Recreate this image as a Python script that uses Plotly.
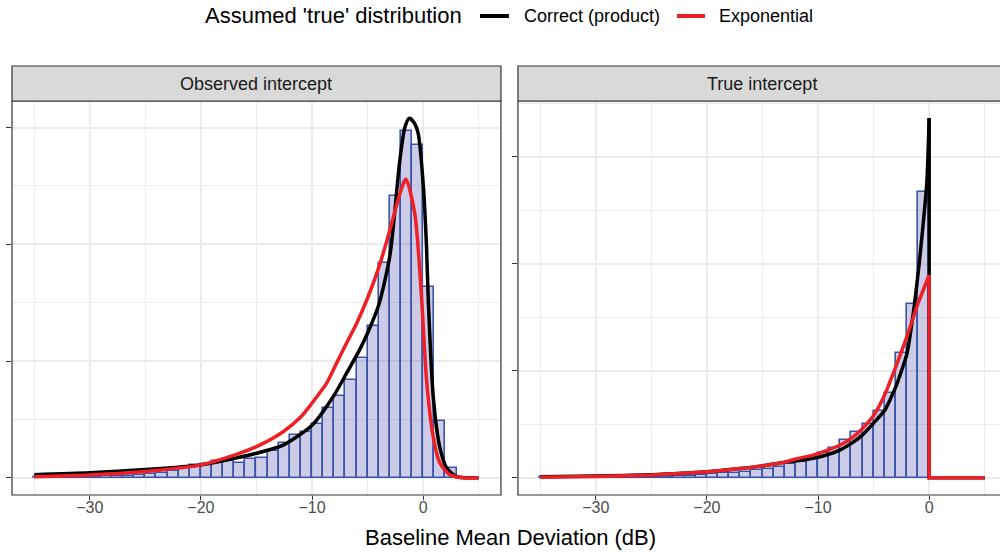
import plotly.graph_objects as go

# histogram bins (left edge, width 1 dB) and densities
obs_edges = list(range(-35, 4))
obs_density = [0.0003, 0.0003, 0.0004, 0.0004, 0.0005, 0.0005, 0.0006, 0.0007, 0.0008, 0.001,
               0.0015, 0.002, 0.003, 0.004, 0.0056, 0.006, 0.007, 0.008, 0.0065, 0.008,
               0.0085, 0.0115, 0.015, 0.0183, 0.0197, 0.023, 0.0297, 0.035, 0.0419, 0.0512,
               0.065, 0.0921, 0.1208, 0.1485, 0.1425, 0.0816, 0.0244, 0.004, 0.0]

true_edges = list(range(-35, 0))
true_density = [0.0002, 0.0002, 0.0003, 0.0003, 0.0004, 0.0004, 0.0005, 0.0006, 0.0007, 0.0008,
                0.0008, 0.001, 0.0015, 0.0019, 0.0025, 0.0031, 0.004, 0.0047, 0.0056, 0.0069,
                0.0078, 0.0103, 0.0125, 0.015, 0.018, 0.0228, 0.028, 0.0352, 0.043, 0.0499,
                0.0623, 0.0789, 0.1163, 0.1623, 0.267]

# fitted curves, observed intercept panel
obs_black_x = [-35, -30, -25, -20, -17, -15, -12.6, -10, -8.1, -6.9, -5.7, -5, -4, -3, -2.1,
               -1.65, -1.25, -0.8, -0.45, 0, 0.3, 0.45, 0.9, 1.5, 2.1, 3, 4, 5]
obs_black_y = [0.0013, 0.0021, 0.0035, 0.0055, 0.0083, 0.0105, 0.014, 0.0225, 0.0347, 0.0447,
               0.055, 0.062, 0.074, 0.095, 0.136, 0.15, 0.154, 0.152, 0.1475, 0.126, 0.099,
               0.0775, 0.035, 0.013, 0.0043, 0.0005, 0.0, 0.0]

obs_red_x = [-35, -30, -25, -20, -17, -15, -12.6, -11, -10, -8.7, -7.8, -6.9, -6, -5, -4, -3,
             -2.2, -1.56, -0.75, -0.15, 0.3, 0.9, 1.5, 2.4, 3.5, 5]
obs_red_y = [0.0004, 0.0012, 0.0027, 0.0055, 0.0097, 0.0133, 0.0197, 0.0261, 0.032, 0.0404,
             0.049, 0.0576, 0.066, 0.077, 0.09, 0.106, 0.12, 0.128, 0.113, 0.0775, 0.042,
             0.0176, 0.0063, 0.0013, 0.0, 0.0]

# fitted curves, true intercept panel
true_black_x = [-35, -30, -25, -20, -17, -15, -13, -11.7, -10, -9, -8, -7, -6, -5, -4, -3, -2,
                -1.35, -0.9, -0.45, -0.2, 0]
true_black_y = [0.0008, 0.0015, 0.0028, 0.0055, 0.0085, 0.011, 0.0145, 0.016, 0.019, 0.022,
                0.026, 0.032, 0.04, 0.051, 0.063, 0.085, 0.116, 0.16, 0.2, 0.247, 0.278, 0.336]

true_red_x = [-35, -30, -25, -20, -17, -15, -13, -12, -11, -10, -9, -8, -7, -6, -5, -4, -3,
              -2, -1, 0]
true_red_y = [0.0005, 0.0011, 0.0025, 0.0055, 0.0085, 0.011, 0.0145, 0.0175, 0.0197, 0.0225,
              0.0262, 0.0305, 0.0368, 0.046, 0.058, 0.0775, 0.1037, 0.132, 0.163, 0.1894]

# beyond the truncation point both densities are zero
tail_x = [0, 0, 5]

panels = ["Observed intercept", "True intercept"]
legend_title = "Assumed 'true' distribution"
legend_names = ["Correct (product)", "Exponential"]

BAR_FILL = "rgba(0,0,139,0.2)"
BAR_LINE = "#3A54A8"
BLACK = "#000000"
RED = "#EE2026"
GRID = "#EBEBEB"
BORDER = "#333333"
FONT = "Liberation Sans, Arial, sans-serif"
LW = 3.5

fig = go.Figure()

fig.add_trace(go.Bar(x=[e + 0.5 for e in obs_edges], y=obs_density, width=1,
                     marker=dict(color=BAR_FILL, line=dict(color=BAR_LINE, width=1.6)),
                     xaxis="x", yaxis="y", hoverinfo="skip"))
fig.add_trace(go.Bar(x=[e + 0.5 for e in true_edges], y=true_density, width=1,
                     marker=dict(color=BAR_FILL, line=dict(color=BAR_LINE, width=1.6)),
                     xaxis="x2", yaxis="y2", hoverinfo="skip"))

# black curves
fig.add_trace(go.Scatter(x=obs_black_x, y=obs_black_y, mode="lines", name=legend_names[0],
                         line=dict(color=BLACK, width=LW, shape="spline", smoothing=0.7),
                         xaxis="x", yaxis="y"))
fig.add_trace(go.Scatter(x=true_black_x, y=true_black_y, mode="lines", name=legend_names[0],
                         line=dict(color=BLACK, width=LW, shape="spline", smoothing=0.5),
                         xaxis="x2", yaxis="y2"))
fig.add_trace(go.Scatter(x=tail_x, y=[true_black_y[-1], 0, 0], mode="lines",
                         line=dict(color=BLACK, width=LW), xaxis="x2", yaxis="y2"))

# red curves
fig.add_trace(go.Scatter(x=obs_red_x, y=obs_red_y, mode="lines", name=legend_names[1],
                         line=dict(color=RED, width=LW, shape="spline", smoothing=0.7),
                         xaxis="x", yaxis="y"))
fig.add_trace(go.Scatter(x=true_red_x, y=true_red_y, mode="lines", name=legend_names[1],
                         line=dict(color=RED, width=LW, shape="spline", smoothing=0.5),
                         xaxis="x2", yaxis="y2"))
fig.add_trace(go.Scatter(x=tail_x, y=[true_red_y[-1], 0, 0], mode="lines",
                         line=dict(color=RED, width=LW), xaxis="x2", yaxis="y2"))

xcommon = dict(dtick=10, tick0=0, showgrid=True, gridcolor=GRID, gridwidth=1.7,
               minor=dict(dtick=5, showgrid=True, gridcolor=GRID, gridwidth=1.2),
               ticks="outside", ticklen=4, tickcolor=BORDER, tickwidth=1.3,
               tickfont=dict(size=16, color="#4D4D4D", family=FONT),
               ticklabelstandoff=-6,
               zeroline=False, showline=False, fixedrange=True, automargin=False)
ycommon = dict(showgrid=True, gridcolor=GRID, gridwidth=1.7,
               ticks="outside", ticklen=5, tickcolor=BORDER, tickwidth=1.3,
               showticklabels=False, zeroline=False, showline=False, automargin=False)

left_dom = [0, 0.4949]
right_dom = [0.5121, 1]

fig.update_layout(
    width=1000, height=552,
    margin=dict(l=12, r=0, t=101, b=57),
    paper_bgcolor="white", plot_bgcolor="white",
    barmode="overlay", bargap=0, showlegend=False,
    font=dict(family=FONT, color="#1A1A1A"),
    xaxis=dict(domain=left_dom, range=[-37, 7], anchor="y", **xcommon),
    xaxis2=dict(domain=right_dom, range=[-37, 6.37], anchor="y2", **xcommon),
    yaxis=dict(domain=[0, 1], range=[-0.0074, 0.1614], anchor="x",
               dtick=0.05, tick0=0,
               minor=dict(dtick=0.025, showgrid=True, gridcolor=GRID, gridwidth=1.2),
               **ycommon),
    yaxis2=dict(domain=[0, 1], range=[-0.0162, 0.352], anchor="x2",
                dtick=0.1, tick0=0,
                minor=dict(dtick=0.05, showgrid=True, gridcolor=GRID, gridwidth=1.2),
                **ycommon),
)


def px_x(p):
    return (p - 12) / 988


def px_y(p):
    return (495 - p) / 394


strip_top = px_y(66)
shapes = []
# left panel border and strip
shapes.append(dict(type="rect", xref="paper", yref="paper", x0=left_dom[0], x1=left_dom[1],
                   y0=0, y1=1, line=dict(color=BORDER, width=1.2), layer="above"))
shapes.append(dict(type="rect", xref="paper", yref="paper", x0=left_dom[0], x1=left_dom[1],
                   y0=1, y1=strip_top, fillcolor="#D9D9D9", line=dict(color=BORDER, width=1.2)))
# right panel is cut at the picture edge, so no right border line
shapes.append(dict(type="path", xref="paper", yref="paper",
                   path=f"M 1.01,0 L {right_dom[0]},0 L {right_dom[0]},1 L 1.01,1",
                   line=dict(color=BORDER, width=1.2), layer="above"))
shapes.append(dict(type="path", xref="paper", yref="paper",
                   path=f"M 1.01,1 L {right_dom[0]},1 L {right_dom[0]},{strip_top} L 1.01,{strip_top}",
                   fillcolor="#D9D9D9", line=dict(color=BORDER, width=1.2)))

# legend drawn by hand along the top
leg_y = px_y(16)
for (x0, x1), col in zip([(480, 509), (677, 705)], [BLACK, RED]):
    shapes.append(dict(type="line", xref="paper", yref="paper", x0=px_x(x0), x1=px_x(x1),
                       y0=leg_y, y1=leg_y, line=dict(color=col, width=4)))
fig.update_layout(shapes=shapes)

annotations = []
strip_centres = [(left_dom[0] + left_dom[1]) / 2,
                 right_dom[0] + (left_dom[1] - left_dom[0]) / 2]
for xc, label in zip(strip_centres, panels):
    annotations.append(dict(text=label, xref="paper", yref="paper",
                            x=xc, y=(1 + strip_top) / 2,
                            showarrow=False, xanchor="center", yanchor="middle",
                            font=dict(size=18, color="#1A1A1A")))
annotations.append(dict(text="Baseline Mean Deviation (dB)", xref="paper", yref="paper",
                        x=px_x(510), y=px_y(537), showarrow=False, xanchor="center",
                        yanchor="middle", font=dict(size=22, color="#000000")))
annotations.append(dict(text=legend_title, xref="paper", yref="paper",
                        x=px_x(203), y=leg_y, showarrow=False, xanchor="left",
                        yanchor="middle", font=dict(size=22, color="#000000")))
for xl, name in zip([522, 717], legend_names):
    annotations.append(dict(text=name, xref="paper", yref="paper",
                            x=px_x(xl), y=leg_y, showarrow=False, xanchor="left",
                            yanchor="middle", font=dict(size=18, color="#000000")))
fig.update_layout(annotations=annotations)

# the page body has a default 8px margin; drop it so the figure sits at the corner
fig.write_html("out.html", config={"displayModeBar": False},
               post_script="document.body.style.margin='0px';")
